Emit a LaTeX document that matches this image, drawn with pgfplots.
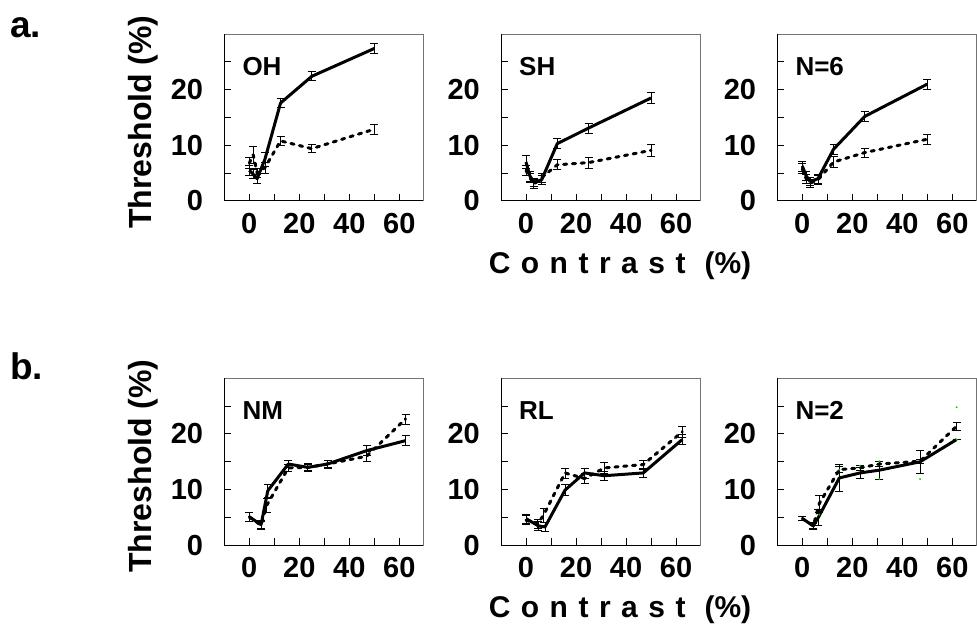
\documentclass[border=0pt]{standalone}
\usepackage{fontspec}
\setmainfont{Liberation Sans}
\usepackage{pgfplots}
\pgfplotsset{compat=1.18}

\tikzset{
  plab/.style={anchor=base west, inner sep=0pt, xshift=18pt, yshift=-41pt,
    font=\fontsize{26}{26}\selectfont\bfseries},
}

\pgfplotsset{
  panel/.style={
    scale only axis, width=199pt, height=167pt,
    xmin=-10, xmax=69.6, ymin=0, ymax=30,
    xtick={0,20,40,60}, minor xtick={10,30,50},
    ytick={0,10,20}, minor ytick={5,15,25},
    tick align=inside, tick pos=left,
    major tick length=7pt, minor tick length=7pt,
    every tick/.append style={black, line width=1pt},
    axis line style={black!55, line width=1pt},
    /pgf/number format/assume math mode=true,
    ticklabel style={font=\fontsize{29}{29}\selectfont\bfseries, inner sep=0pt},
    xticklabel style={anchor=north, yshift=-12pt},
    yticklabel style={anchor=east, xshift=-21pt},
    after end axis/.append code={
      \draw[black, line width=1pt] (rel axis cs:0,1) -- (rel axis cs:0,0) -- (rel axis cs:1,0);},
  },
  solidser/.style={black, line width=3pt, line join=round, mark=none,
    error bars/.cd, y dir=both, y explicit,
    error bar style={solid, line width=0.8pt},
    error mark options={rotate=90, mark size=4pt, solid, line width=0.8pt}},
  dashser/.style={black, line width=3pt, line join=round, line cap=round,
    dash pattern=on 3.2pt off 5.6pt, mark=none,
    error bars/.cd, y dir=both, y explicit,
    error bar style={solid, line width=0.8pt, line cap=butt},
    error mark options={rotate=90, mark size=4pt, solid, line width=0.8pt}},
}

\begin{document}
\begin{tikzpicture}
\useasboundingbox (0,0) rectangle (977pt,633pt);

% ---------- row a ----------
\begin{axis}[panel, at={(224.3pt,432pt)}, anchor=south west]
\addplot[dashser] table[x=x, y=y, y error=e] {
x y e
0 6.8 1.0
1.56 8.3 1.5
3.13 5.0 0.8
6.25 6.0 1.0
12.5 10.8 0.75
25 9.4 0.75
50 12.9 0.85
};
\addplot[solidser] table[x=x, y=y, y error=e] {
x y e
0 5.5 0.9
1.56 4.8 0.8
3.13 4.0 0.8
6.25 7.5 1.2
12.5 17.6 0.75
25 22.4 0.8
50 27.4 0.9
};
\node[plab] at (rel axis cs:0,1) {OH};
\end{axis}

\begin{axis}[panel, at={(501pt,432pt)}, anchor=south west]
\addplot[dashser] table[x=x, y=y, y error=e] {
x y e
0 5.5 0.9
1.56 4.2 0.8
3.13 3.0 0.8
6.25 4.2 0.8
12.5 6.5 0.9
25 6.9 1.0
50 9.1 1.0
};
\addplot[solidser] table[x=x, y=y, y error=e] {
x y e
0 7.0 1.2
1.56 4.5 0.9
3.13 3.4 0.7
6.25 3.8 0.8
12.5 10.3 0.9
25 13.1 0.9
50 18.5 1.0
};
\node[plab] at (rel axis cs:0,1) {SH};
\end{axis}

\begin{axis}[panel, at={(777.3pt,432pt)}, anchor=south west]
\addplot[dashser] table[x=x, y=y, y error=e] {
x y e
0 5.8 0.9
1.56 4.0 0.8
3.13 3.2 0.7
6.25 3.8 0.8
12.5 7.0 1.0
25 8.7 0.8
50 11.1 0.9
};
\addplot[solidser] table[x=x, y=y, y error=e] {
x y e
0 6.3 0.9
1.56 4.5 0.8
3.13 3.5 0.7
6.25 4.0 0.8
12.5 9.3 0.9
25 15.2 0.9
50 21.0 0.9
};
\node[plab] at (rel axis cs:0,1) {N=6};
\end{axis}

% ---------- row b ----------
\begin{axis}[panel, at={(224.3pt,87.7pt)}, anchor=south west]
\addplot[dashser] table[x=x, y=y, y error=e] {
x y e
0 5.1 0.8
4.7 3.6 0.7
7.0 7.2 1.3
15.6 13.9 0.6
23.4 14.0 0.6
31.3 14.6 0.6
46.9 16.0 0.9
62.5 22.7 0.9
};
\addplot[solidser] table[x=x, y=y, y error=e] {
x y e
0 5.1 0.8
4.7 3.7 0.7
7.4 9.8 1.2
15.6 14.6 0.6
23.4 14.0 0.7
31.3 14.6 0.7
46.9 17.0 0.9
62.5 18.8 0.9
};
\node[plab] at (rel axis cs:0,1) {NM};
\end{axis}

\begin{axis}[panel, at={(501pt,87.7pt)}, anchor=south west]
\addplot[dashser] table[x=x, y=y, y error=e] {
x y e
0 4.5 0.8
4.7 3.9 0.8
7.0 5.4 1.2
15.6 13.0 0.9
23.4 12.0 0.9
31.3 13.9 1.0
46.9 14.5 0.8
62.5 20.4 1.0
};
\addplot[solidser] table[x=x, y=y, y error=e] {
x y e
0 4.8 0.8
4.9 3.5 0.8
7.6 3.3 0.8
15.6 9.9 1.0
23.4 13.0 0.9
31.3 12.5 0.8
46.9 13.0 0.8
62.5 19.0 0.9
};
\node[plab] at (rel axis cs:0,1) {RL};
\end{axis}

\begin{axis}[panel, at={(777.3pt,87.7pt)}, anchor=south west]
\addplot[dashser] table[x=x, y=y, y error=e] {
x y e
0 4.8 0.4
4.4 3.5 0.5
6.8 7.5 1.5
14.8 13.6 0.5
23.1 13.9 0.4
30.8 14.6 0.4
47.1 15.1 0.4
61.7 21.4 0.75
};
\addplot[solidser] table[x=x, y=y, y error=e] {
x y e
0 4.8 0.4
4.4 3.5 0.6
6.4 5.0 1.5
14.8 12.1 2.5
23.1 13.0 1.0
30.8 13.5 1.6
47.1 15.0 2.0
61.7 19.0 0
};
\addplot[only marks, mark=*, mark size=0.7pt, green!80!black] table {
x y
61.7 24.8
61.7 19.0
47.1 11.9
30.8 11.9
30.8 15.1
23.1 14.3
14.8 13.6
6.8 5.5
};
\node[plab] at (rel axis cs:0,1) {N=2};
\end{axis}

% ---------- labels ----------
\node[anchor=base west, inner sep=0pt, font=\fontsize{37}{37}\selectfont\bfseries] at (10pt,595pt) {a.};
\node[anchor=base west, inner sep=0pt, font=\fontsize{37}{37}\selectfont\bfseries] at (10pt,254pt) {b.};
\node[rotate=90, inner sep=0pt, font=\fontsize{32}{32}\selectfont\bfseries] at (143pt,511pt) {Threshold (\%)};
\node[rotate=90, inner sep=0pt, font=\fontsize{32}{32}\selectfont\bfseries] at (143pt,167pt) {Threshold (\%)};
\node[inner sep=0pt, font=\fontsize{30}{30}\selectfont\bfseries] at (620pt,367pt)
  {C\hspace{10.5pt}o\hspace{10.5pt}n\hspace{10.5pt}t\hspace{10.5pt}r\hspace{10.5pt}a\hspace{10.5pt}s\hspace{10.5pt}t\hspace{19pt}(\%)};
\node[inner sep=0pt, font=\fontsize{30}{30}\selectfont\bfseries] at (620pt,23pt)
  {C\hspace{10.5pt}o\hspace{10.5pt}n\hspace{10.5pt}t\hspace{10.5pt}r\hspace{10.5pt}a\hspace{10.5pt}s\hspace{10.5pt}t\hspace{19pt}(\%)};
\end{tikzpicture}
\end{document}
